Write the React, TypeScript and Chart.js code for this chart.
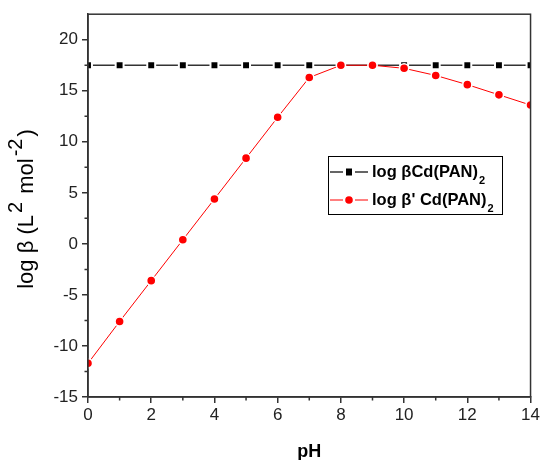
import React, { useEffect, useRef } from 'react';
import { Chart, registerables } from 'chart.js';

Chart.register(...registerables);

const pH = [0, 1, 2, 3, 4, 5, 6, 7, 8, 9, 10, 11, 12, 13, 14];
const logBeta = [17.5, 17.5, 17.5, 17.5, 17.5, 17.5, 17.5, 17.5, 17.5, 17.5, 17.5, 17.5, 17.5, 17.5, 17.5];
const logBetaPrime = [-11.7, -7.6, -3.6, 0.4, 4.4, 8.4, 12.4, 16.3, 17.5, 17.5, 17.2, 16.5, 15.6, 14.6, 13.6];
const xMinorTicks = [1, 3, 5, 7, 9, 11, 13];
const yMinorTicks = [-12.5, -7.5, -2.5, 2.5, 7.5, 12.5, 17.5];
const seriesNames = ['log \u03B2Cd(PAN)', "log \u03B2' Cd(PAN)"];
const xTitle = 'pH';

const FONT = '"Liberation Sans", Arial, sans-serif';
const AXIS = '#333333';

const decorPlugin = {
  id: 'decor',
  afterDraw(chart: any) {
    const { ctx, chartArea } = chart;
    const { left, right, top, bottom } = chartArea;
    const xs = chart.scales.x;
    const ys = chart.scales.y;
    ctx.save();
    ctx.strokeStyle = AXIS;
    ctx.lineWidth = 1.5;
    ctx.strokeRect(left, top, right - left, bottom - top);
    ctx.beginPath();
    xMinorTicks.forEach((v) => {
      const px = xs.getPixelForValue(v);
      ctx.moveTo(px, bottom);
      ctx.lineTo(px, bottom + 3.5);
    });
    yMinorTicks.forEach((v) => {
      const py = ys.getPixelForValue(v);
      ctx.moveTo(left, py);
      ctx.lineTo(left - 3.5, py);
    });
    ctx.stroke();

    ctx.fillStyle = '#000';
    ctx.font = `bold 18px ${FONT}`;
    ctx.textAlign = 'center';
    ctx.textBaseline = 'alphabetic';
    ctx.fillText(xTitle, (left + right) / 2, 457);

    const segs = [
      { t: 'log \u03B2 (L', sup: false },
      { t: '2', sup: true },
      { t: ' mol', sup: false },
      { t: '-2', sup: true },
      { t: ')', sup: false },
    ];
    const mainFont = `22px ${FONT}`;
    const supFont = `20px ${FONT}`;
    let total = 0;
    const widths = segs.map((s) => {
      ctx.font = s.sup ? supFont : mainFont;
      const w = ctx.measureText(s.t).width + (s.sup ? 4 : 0);
      total += w;
      return w;
    });
    ctx.translate(33, 209);
    ctx.rotate(-Math.PI / 2);
    ctx.textAlign = 'left';
    let cx = -total / 2;
    segs.forEach((s, i) => {
      ctx.font = s.sup ? supFont : mainFont;
      ctx.fillText(s.t, cx + (s.sup ? 2 : 0), s.sup ? -11 : 0);
      cx += widths[i];
    });
    ctx.restore();

    ctx.save();
    ctx.strokeStyle = '#000';
    ctx.lineWidth = 1;
    ctx.strokeRect(328.5, 156.5, 174, 58);
    const rows = [
      { y: 172, color: AXIS, fill: '#000', name: seriesNames[0], shape: 'rect' },
      { y: 200, color: '#ff0000', fill: '#ff0000', name: seriesNames[1], shape: 'circle' },
    ];
    rows.forEach((r) => {
      ctx.strokeStyle = r.color;
      ctx.lineWidth = r.shape === 'rect' ? 1.5 : 1;
      ctx.beginPath();
      ctx.moveTo(330, r.y);
      ctx.lineTo(343, r.y);
      ctx.moveTo(355, r.y);
      ctx.lineTo(368, r.y);
      ctx.stroke();
      ctx.fillStyle = r.fill;
      if (r.shape === 'rect') {
        ctx.fillRect(349 - 3, r.y - 3.5, 6, 7);
      } else {
        ctx.beginPath();
        ctx.arc(349, r.y, 3.8, 0, Math.PI * 2);
        ctx.fill();
      }
      ctx.fillStyle = '#000';
      ctx.font = `bold 16.5px ${FONT}`;
      ctx.textAlign = 'left';
      ctx.textBaseline = 'middle';
      ctx.fillText(r.name, 372, r.y);
      const w = ctx.measureText(r.name).width;
      ctx.font = `bold 11px ${FONT}`;
      ctx.fillText('2', 372 + w + 1, r.y + 9);
    });
    ctx.restore();
  },
};

export default function App() {
  const ref = useRef<HTMLCanvasElement | null>(null);
  useEffect(() => {
    if (!ref.current) return;
    const chart = new Chart(ref.current, {
      type: 'line',
      data: {
        datasets: [
          {
            label: seriesNames[1],
            data: pH.map((x, i) => ({ x, y: logBetaPrime[i] })),
            borderColor: '#ff0000',
            backgroundColor: '#ff0000',
            borderWidth: 1,
            pointStyle: 'circle',
            pointRadius: 4.6,
            pointBorderColor: '#ffffff',
            pointBorderWidth: 1.6,
            pointBackgroundColor: '#ff0000',
            clip: 0,
          },
          {
            label: seriesNames[0],
            data: pH.map((x, i) => ({ x, y: logBeta[i] })),
            borderColor: AXIS,
            backgroundColor: '#000',
            borderWidth: 1.5,
            pointStyle: 'rect',
            pointRadius: 5.6,
            pointBorderColor: '#ffffff',
            pointBorderWidth: 2,
            pointBackgroundColor: '#000',
            clip: 0,
          },
        ],
      },
      options: {
        animation: false,
        responsive: false,
        layout: { padding: { left: 0, top: 11, right: 9, bottom: 0 }, autoPadding: false },
        plugins: { legend: { display: false }, tooltip: { enabled: false } },
        scales: {
          x: {
            type: 'linear',
            min: 0,
            max: 14,
            afterFit: (s: any) => { s.height = 63; },
            ticks: { stepSize: 2, color: '#222', font: { family: FONT, size: 17 }, padding: 2, maxRotation: 0 },
            grid: { drawOnChartArea: false, tickLength: 6, color: AXIS, lineWidth: 1.5 },
            border: { color: AXIS, width: 1.5 },
          },
          y: {
            type: 'linear',
            min: -15,
            max: 22.5,
            afterFit: (s: any) => { s.width = 88; },
            ticks: { stepSize: 5, includeBounds: false, color: '#222', font: { family: FONT, size: 17 }, padding: 4 },
            grid: { drawOnChartArea: false, tickLength: 6, color: AXIS, lineWidth: 1.5 },
            border: { color: AXIS, width: 1.5 },
          },
        },
      },
      plugins: [decorPlugin],
    } as any);
    return () => chart.destroy();
  }, []);
  return (
    <div style={{ position: 'absolute', left: 0, top: 0, width: 542, height: 460, background: '#fff' }}>
      <canvas ref={ref} width={542} height={460} />
    </div>
  );
}
